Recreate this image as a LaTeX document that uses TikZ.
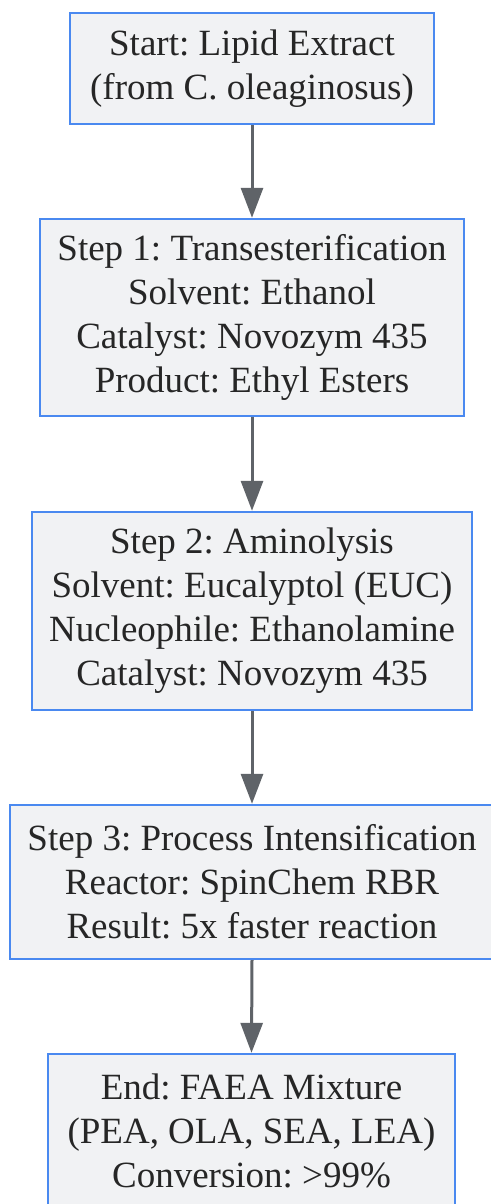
\documentclass[tikz,border=0pt]{standalone}
\usepackage{fontspec}
\setmainfont{Liberation Serif}
\usetikzlibrary{arrows.meta}
\definecolor{boxfill}{HTML}{F1F2F4}
\definecolor{boxline}{HTML}{4A89F0}
\definecolor{arrowc}{HTML}{5F6368}
\definecolor{txt}{HTML}{262626}
\tikzset{
  stepbox/.style={draw=boxline, fill=boxfill, line width=2.4pt, align=center, inner sep=0pt,
    text=txt, font=\frenchspacing\fontsize{37pt}{44pt}\selectfont},
  arr/.style={draw=arrowc, line width=3pt, -{Triangle[length=30pt,width=22pt]}}
}
\begin{document}
\begin{tikzpicture}[x=1pt,y=1pt]
\useasboundingbox (0,0) rectangle (490,-1204);
\node[stepbox, minimum width=364pt, minimum height=111pt] (start) at (252,-68.5)
  {Start: Lipid Extract\\(from C. oleaginosus)};
\node[stepbox, minimum width=424pt, minimum height=197pt] (s1) at (252,-317.5)
  {Step 1: Transesterification\\Solvent: Ethanol\\Catalyst: Novozym 435\\Product: Ethyl Esters};
\node[stepbox, minimum width=440pt, minimum height=198pt] (s2) at (252,-611)
  {Step 2: Aminolysis\\Solvent: Eucalyptol (EUC)\\Nucleophile: Ethanolamine\\Catalyst: Novozym 435};
\node[stepbox, minimum width=484pt, minimum height=154pt] (s3) at (252,-882)
  {Step 3: Process Intensification\\Reactor: SpinChem RBR\\Result: 5x faster reaction};
\node[stepbox, minimum width=407pt, minimum height=154pt] (end) at (251.5,-1131)
  {End: FAEA Mixture\\(PEA, OLA, SEA, LEA)\\Conversion: >99\%};
\draw[arr] (start.south) -- (s1.north);
\draw[arr] (s1.south) -- (s2.north);
\draw[arr] (s2.south) -- (s3.north);
\draw[arr] (s3.south) -- (end.north);
\end{tikzpicture}
\end{document}
